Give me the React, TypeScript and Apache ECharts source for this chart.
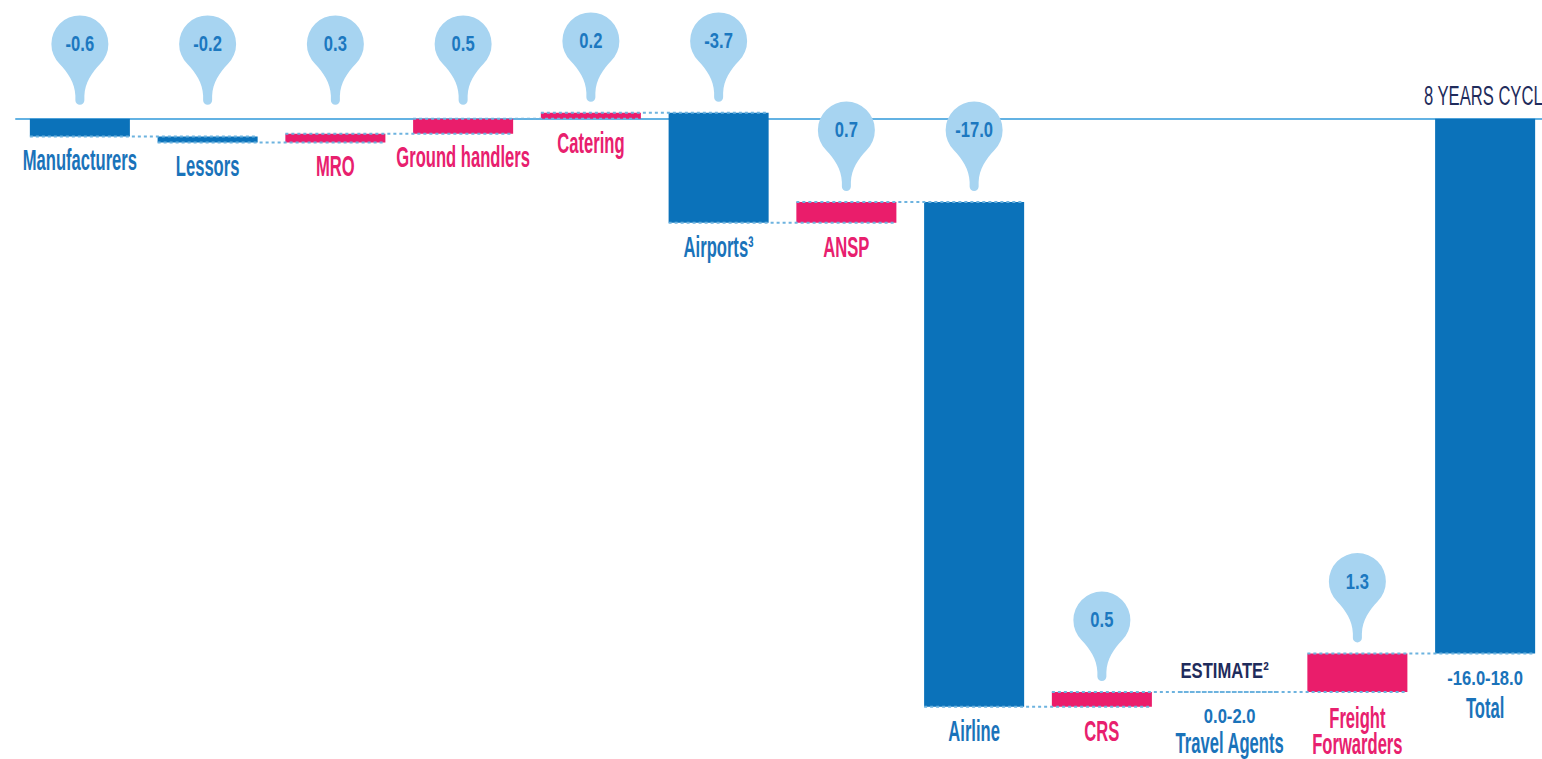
import React, { useEffect, useRef } from 'react';
import * as echarts from 'echarts';

// ---- data ----
const categories = [
  'Manufacturers', 'Lessors', 'MRO', 'Ground handlers', 'Catering', 'Airports³',
  'ANSP', 'Airline', 'CRS', 'Travel Agents', 'Freight Forwarders', 'Total',
];
const nameLines = [
  ['Manufacturers'], ['Lessors'], ['MRO'], ['Ground handlers'], ['Catering'], ['Airports³'],
  ['ANSP'], ['Airline'], ['CRS'], ['Travel Agents'], ['Freight', 'Forwarders'], ['Total'],
];
// change per segment (Travel Agents: estimate range only, no bar)
const deltas = [-0.6, -0.2, 0.3, 0.5, 0.2, -3.7, 0.7, -17.0, 0.5, 0.0, 1.3];
const totalValue = -18.0;
const pinLabels = ['-0.6', '-0.2', '0.3', '0.5', '0.2', '-3.7', '0.7', '-17.0', '0.5', '', '1.3', ''];
const rangeLabels = ['', '', '', '', '', '', '', '', '', '0.0-2.0', '', '-16.0-18.0'];
const estimateNote = 'ESTIMATE²';
const estimateIndex = 9;
const cycleTitle = '8 YEARS CYCLE';

// ---- styles ----
const FONT = '"Liberation Sans", Arial, sans-serif';
const SX = 0.83;
const BLUE_BAR = '#0b72ba';
const PINK_BAR = '#ea1d6b';
const PIN = '#a7d4f1';
const PIN_TEXT = '#1c78c0';
const LABEL_BLUE = '#1a73ba';
const LABEL_PINK = '#e8206e';
const NAVY = '#1f2c5c';
const BASE_LINE = '#63b2e3';
const DOT = '#6db3df';

// waterfall rows: [index, start, end, sign]
const rows: number[][] = [];
let level = 0;
deltas.forEach((d, i) => {
  const start = level;
  level = Math.round((level + d) * 10) / 10;
  rows.push([i, start, level, d > 0 ? 1 : d < 0 ? -1 : 0]);
});
rows.push([deltas.length, 0, totalValue, -1]);

const connectors: number[][] = rows.slice(0, -1).map((r) => [r[0], r[2]]);

const PIN_PATH =
  'M -20.2 -40.8 A 28.5 28.5 0 1 1 20.2 -40.8 C 12 -32 5 -22 4.5 -9 L 4.5 -4.5 ' +
  'A 4.5 4.5 0 0 1 -4.5 -4.5 L -4.5 -9 C -5 -22 -12 -32 -20.2 -40.8 Z';

function txt(x: number, y: number, text: string, color: string, size: number, sy: number, weight = 'bold') {
  return {
    type: 'text',
    x,
    y,
    scaleX: SX,
    scaleY: sy,
    z2: 20,
    style: {
      text,
      fill: color,
      fontSize: size,
      fontFamily: FONT,
      fontWeight: weight,
      align: 'center',
      verticalAlign: 'middle',
    },
  };
}

export default function App() {
  const ref = useRef<HTMLDivElement>(null);

  useEffect(() => {
    if (!ref.current) return;
    const chart = echarts.init(ref.current, null, { renderer: 'svg' });

    const option: any = {
      animation: false,
      grid: { left: 16, top: 0, width: 1533, height: 742.5, containLabel: false },
      xAxis: {
        type: 'category',
        data: categories,
        axisLine: { show: true, onZero: true, lineStyle: { color: BASE_LINE, width: 2 } },
        axisTick: { show: false },
        axisLabel: { show: false },
        splitLine: { show: false },
      },
      yAxis: {
        type: 'value',
        min: -21,
        max: 4,
        show: false,
        splitLine: { show: false },
      },
      graphic: [
        {
          type: 'text',
          x: 1424,
          y: 95,
          scaleX: SX,
          scaleY: 1.4,
          style: {
            text: cycleTitle,
            fill: NAVY,
            fontSize: 20,
            fontFamily: FONT,
            fontWeight: 'normal',
            align: 'left',
            verticalAlign: 'middle',
          },
        },
      ],
      series: [
        {
          type: 'custom',
          z: 2,
          data: rows,
          renderItem: (params: any, api: any) => {
            const i = api.value(0);
            const start = api.value(1);
            const end = api.value(2);
            const sign = api.value(3);
            const p1 = api.coord([i, start]);
            const p2 = api.coord([i, end]);
            const bw = api.size([1, 0])[0] * 0.783;
            const cx = p1[0];
            const yTop = Math.min(p1[1], p2[1]);
            const yBot = Math.max(p1[1], p2[1]);
            const children: any[] = [];
            if (yBot - yTop > 0.5) {
              children.push({
                type: 'rect',
                shape: { x: cx - bw / 2, y: yTop, width: bw, height: yBot - yTop },
                style: { fill: sign > 0 ? PINK_BAR : BLUE_BAR },
              });
            }
            const color = sign > 0 ? LABEL_PINK : LABEL_BLUE;
            let y = yBot + 24;
            if (rangeLabels[i]) {
              children.push(txt(cx, y, rangeLabels[i], LABEL_BLUE, 20, 1.05));
              y += i === rows.length - 1 ? 31 : 27;
            } else if (nameLines[i].length > 1) {
              y += 2;
            }
            nameLines[i].forEach((line, k) => {
              children.push(txt(cx, y + k * 26, line, color, 20, 1.45));
            });
            if (i === estimateIndex) {
              children.push(txt(cx - 5, yTop - 22, estimateNote, NAVY, 20, 1.1));
            }
            return { type: 'group', children };
          },
        },
        {
          type: 'custom',
          z: 3,
          data: connectors,
          renderItem: (params: any, api: any) => {
            const i = api.value(0);
            const lv = api.value(1);
            const bw = api.size([1, 0])[0] * 0.783;
            const a = api.coord([i, lv]);
            const b = api.coord([i + 1, lv]);
            return {
              type: 'line',
              shape: { x1: a[0] - bw / 2, y1: a[1], x2: b[0] + bw / 2, y2: b[1] },
              style: { stroke: DOT, lineWidth: 2, lineDash: [3, 3] },
            };
          },
        },
        {
          type: 'custom',
          z: 4,
          data: rows,
          renderItem: (params: any, api: any) => {
            const i = api.value(0);
            if (!pinLabels[i]) return { type: 'group', children: [] };
            const barTop = Math.max(api.value(1), api.value(2));
            // bars that sit just under the baseline share one row of pins above it
            const anchor = barTop > -1 ? Math.max(barTop, 0.1) : barTop;
            const p = api.coord([i, anchor]);
            const tipY = p[1] - 11;
            return {
              type: 'group',
              children: [
                {
                  type: 'path',
                  x: p[0],
                  y: tipY,
                  shape: { pathData: PIN_PATH },
                  style: { fill: PIN },
                },
                txt(p[0], tipY - 61, pinLabels[i], PIN_TEXT, 20, 1.08),
              ],
            };
          },
        },
      ],
    };

    chart.setOption(option);
    return () => chart.dispose();
  }, []);

  return (
    <div style={{ position: 'absolute', left: 0, top: 0, width: 1542, height: 759, overflow: 'hidden', background: '#fff' }}>
      <div ref={ref} style={{ width: 1560, height: 759 }} />
    </div>
  );
}
